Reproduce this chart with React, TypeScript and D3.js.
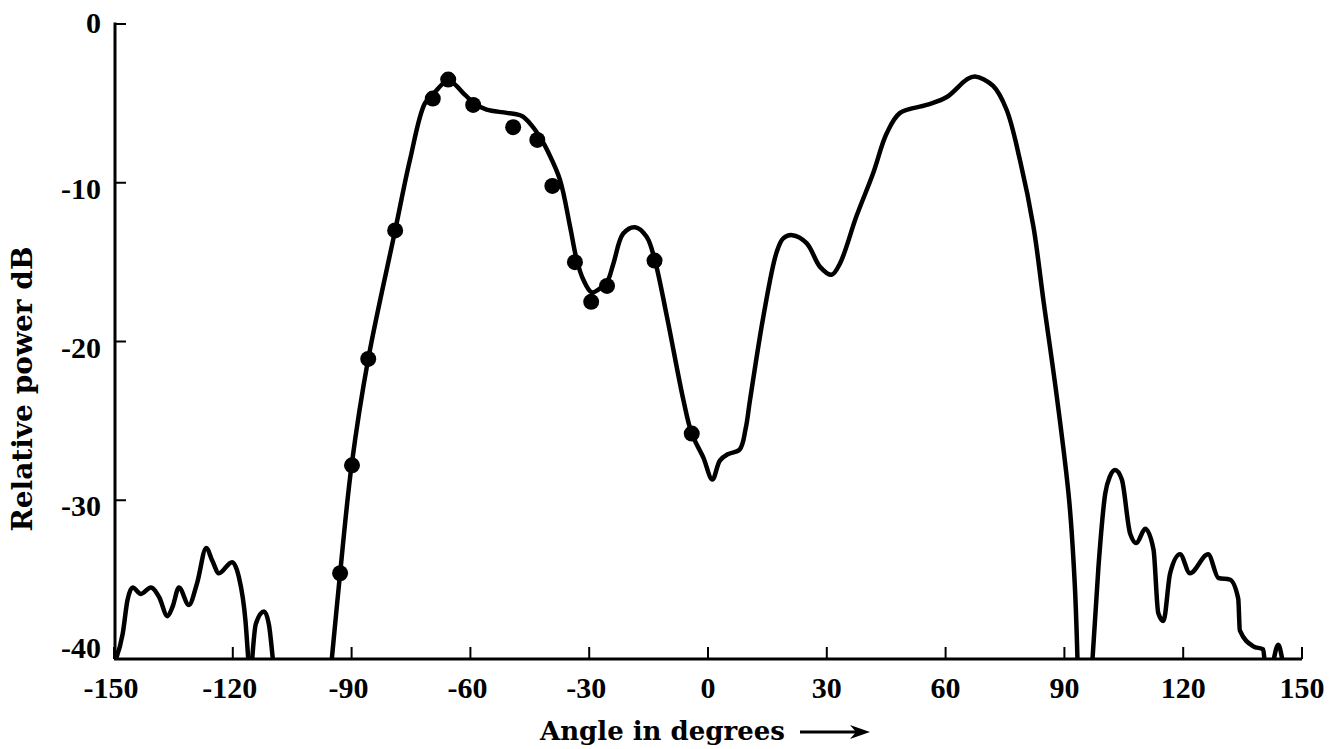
import React from "react";
import * as d3 from "d3";

// Tick values
const xTicks = [-150, -120, -90, -60, -30, 0, 30, 60, 90, 120, 150];
const yTicks = [0, -10, -20, -30, -40];

// Curve segments: [angle (deg), relative power (dB)]
const leftLobeA: [number, number][] = [
  [-149.5, -40], [-147.8, -38.4], [-146.6, -36.3], [-145.3, -35.5], [-143.2, -35.9],
  [-140.7, -35.5], [-138.6, -36.1], [-136.5, -37.3], [-135.2, -36.7], [-133.6, -35.5],
  [-131.1, -36.6], [-129.0, -35.2], [-126.7, -33.0], [-125.2, -33.8], [-123.5, -34.6],
  [-120.2, -33.9], [-118.5, -34.8], [-116.8, -37.6], [-116.1, -40],
];
const leftLobeB: [number, number][] = [
  [-115.1, -40], [-114.2, -37.8], [-112.1, -37.0], [-110.9, -37.8], [-109.9, -40],
];
const mainLobe: [number, number][] = [
  [-95.0, -40], [-92.9, -34.6], [-90.0, -27.8], [-85.8, -21.1],
  [-79.0, -13.0], [-75.3, -8.6], [-71.5, -5.0], [-69.0, -4.3], [-66.5, -3.7],
  [-64.5, -3.7], [-62.0, -4.3], [-59.0, -5.0], [-55.9, -5.4], [-50.8, -5.6],
  [-47.0, -5.8], [-44.5, -6.4], [-42.0, -7.3], [-40.5, -8.0], [-37.4, -9.8],
  [-34.8, -12.8], [-33.2, -14.8], [-31.5, -16.1], [-29.4, -16.9], [-27.5, -16.7],
  [-25.4, -16.2], [-23.9, -15.1], [-21.4, -13.2], [-18.4, -12.8], [-15.5, -13.4],
  [-13.4, -14.9], [-10.4, -18.4], [-6.2, -23.7], [-4.1, -25.8], [-1.2, -27.3],
  [1.1, -28.7], [3.0, -27.5], [5.0, -27.1], [8.0, -26.8], [9.5, -25.5],
  [10.6, -23.7], [14.0, -18.4], [17.3, -14.4], [19.0, -13.5], [21.3, -13.3],
  [24.9, -13.8], [28.3, -15.3], [31.2, -15.8], [33.3, -15.1], [37.5, -12.1],
  [41.7, -9.4], [45.1, -6.9], [48.5, -5.6], [55.2, -5.1], [60.3, -4.6],
  [65.3, -3.5], [67.4, -3.3], [72.0, -3.9], [75.4, -5.4], [78.8, -8.6],
  [82.2, -12.8], [84.7, -17.4], [88.2, -23.7], [91.2, -30.0], [92.6, -35.2],
  [93.3, -40],
];
const rightLobeA: [number, number][] = [
  [97.1, -40], [98.6, -34.2], [100.3, -29.6], [101.5, -28.5], [102.8, -28.1],
  [104.5, -28.7], [106.6, -32.1], [108.2, -32.7], [110.4, -31.8], [112.5, -33.1],
  [113.7, -37.1], [115.0, -37.6], [116.7, -34.6], [119.2, -33.4], [121.7, -34.6],
  [126.3, -33.4], [128.9, -34.9], [131.8, -35.0], [133.9, -36.2], [134.3, -38.2],
  [137.7, -39.2], [140.2, -39.4], [140.5, -40],
];
const rightLobeB: [number, number][] = [
  [142.9, -40], [144.0, -39.1], [145.0, -40],
];

// Measured points (dots)
const measuredAngles = [-92.9, -89.9, -85.8, -79.0, -69.5, -65.6, -59.3, -49.2, -43.1, -39.3, -33.6, -29.5, -25.5, -13.5, -4.1];
const measuredPower = [-34.6, -27.8, -21.1, -13.0, -4.7, -3.5, -5.1, -6.5, -7.3, -10.2, -15.0, -17.5, -16.5, -14.9, -25.8];

const W = 1343;
const H = 749;

export default function App() {
  const x = d3.scaleLinear().domain([-150, 150]).range([114, 1302]);
  const y = d3.scaleLinear().domain([0, -40]).range([24, 659]);

  const smooth = d3
    .line<[number, number]>()
    .x((d) => x(d[0]))
    .y((d) => y(d[1]))
    .curve(d3.curveCatmullRom.alpha(0.5));
  const jagged = d3
    .line<[number, number]>()
    .x((d) => x(d[0]))
    .y((d) => y(d[1]))
    .curve(d3.curveMonotoneX);

  const tickFont = "'Liberation Serif', 'DejaVu Serif', serif";
  const titleFont = "'DejaVu Serif', 'Liberation Serif', serif";
  const fmt = (t: number) => (t < 0 ? "-" + Math.abs(t) : String(t));

  // arrow after x title
  const ax0 = 800;
  const ax1 = 870;
  const ay = 732;

  return (
    <div style={{ position: "fixed", left: 0, top: 0 }}>
      <svg width={W} height={H} style={{ display: "block", background: "#fff" }}>
        <defs>
          <clipPath id="plotClip">
            <rect x={x(-150)} y={0} width={x(150) - x(-150)} height={y(-40)} />
          </clipPath>
        </defs>

        {/* axes */}
        <line x1={x(-150)} x2={x(150)} y1={y(-40)} y2={y(-40)} stroke="#000" strokeWidth={3} />
        <line x1={x(-150) + 1} x2={x(-150) + 1} y1={y(0) - 1.5} y2={y(-40)} stroke="#000" strokeWidth={3} />

        {/* x ticks */}
        {xTicks.map((t) => (
          <g key={"xt" + t}>
            <line x1={x(t)} x2={x(t)} y1={y(-40)} y2={y(-40) - 12} stroke="#000" strokeWidth={2} />
            <text
              x={x(t) - (t < 0 ? 3 : 0)}
              y={698}
              textAnchor="middle"
              fontFamily={tickFont}
              fontWeight="bold"
              fontSize={30}
              fill="#000"
            >
              {fmt(t)}
            </text>
          </g>
        ))}

        {/* y ticks */}
        {yTicks.map((t) => (
          <g key={"yt" + t}>
            <line x1={x(-150)} x2={x(-150) + 12} y1={y(t)} y2={y(t)} stroke="#000" strokeWidth={2} />
            <text
              x={101}
              y={t === -40 ? y(t) - 1 : t === 0 ? y(t) + 9 : y(t) + 16}
              textAnchor="end"
              fontFamily={tickFont}
              fontWeight="bold"
              fontSize={30}
              fill="#000"
            >
              {fmt(t)}
            </text>
          </g>
        ))}

        {/* curves */}
        <g clipPath="url(#plotClip)" fill="none" stroke="#000" strokeWidth={4.5} strokeLinejoin="round" strokeLinecap="round">
          <path d={jagged(leftLobeA) || ""} />
          <path d={jagged(leftLobeB) || ""} />
          <path d={smooth(mainLobe) || ""} />
          <path d={jagged(rightLobeA) || ""} />
          <path d={jagged(rightLobeB) || ""} />
        </g>

        {/* dots */}
        {measuredAngles.map((a, i) => (
          <circle key={"pt" + i} cx={x(a)} cy={y(measuredPower[i])} r={8} fill="#000" />
        ))}

        {/* axis titles */}
        <text
          x={540}
          y={740}
          textAnchor="start"
          fontFamily={titleFont}
          fontWeight="bold"
          fontSize={26}
          fill="#000"
        >
          Angle in degrees
        </text>
        <line x1={ax0} x2={ax1 - 12} y1={ay} y2={ay} stroke="#000" strokeWidth={3} />
        <path d={`M${ax1},${ay} L${ax1 - 20},${ay - 7} L${ax1 - 14},${ay} L${ax1 - 20},${ay + 7} Z`} fill="#000" />
        <text
          transform={`translate(32,389) rotate(-90)`}
          textAnchor="middle"
          fontFamily={titleFont}
          fontWeight="bold"
          fontSize={28}
          fill="#000"
        >
          Relative power dB
        </text>
      </svg>
    </div>
  );
}
